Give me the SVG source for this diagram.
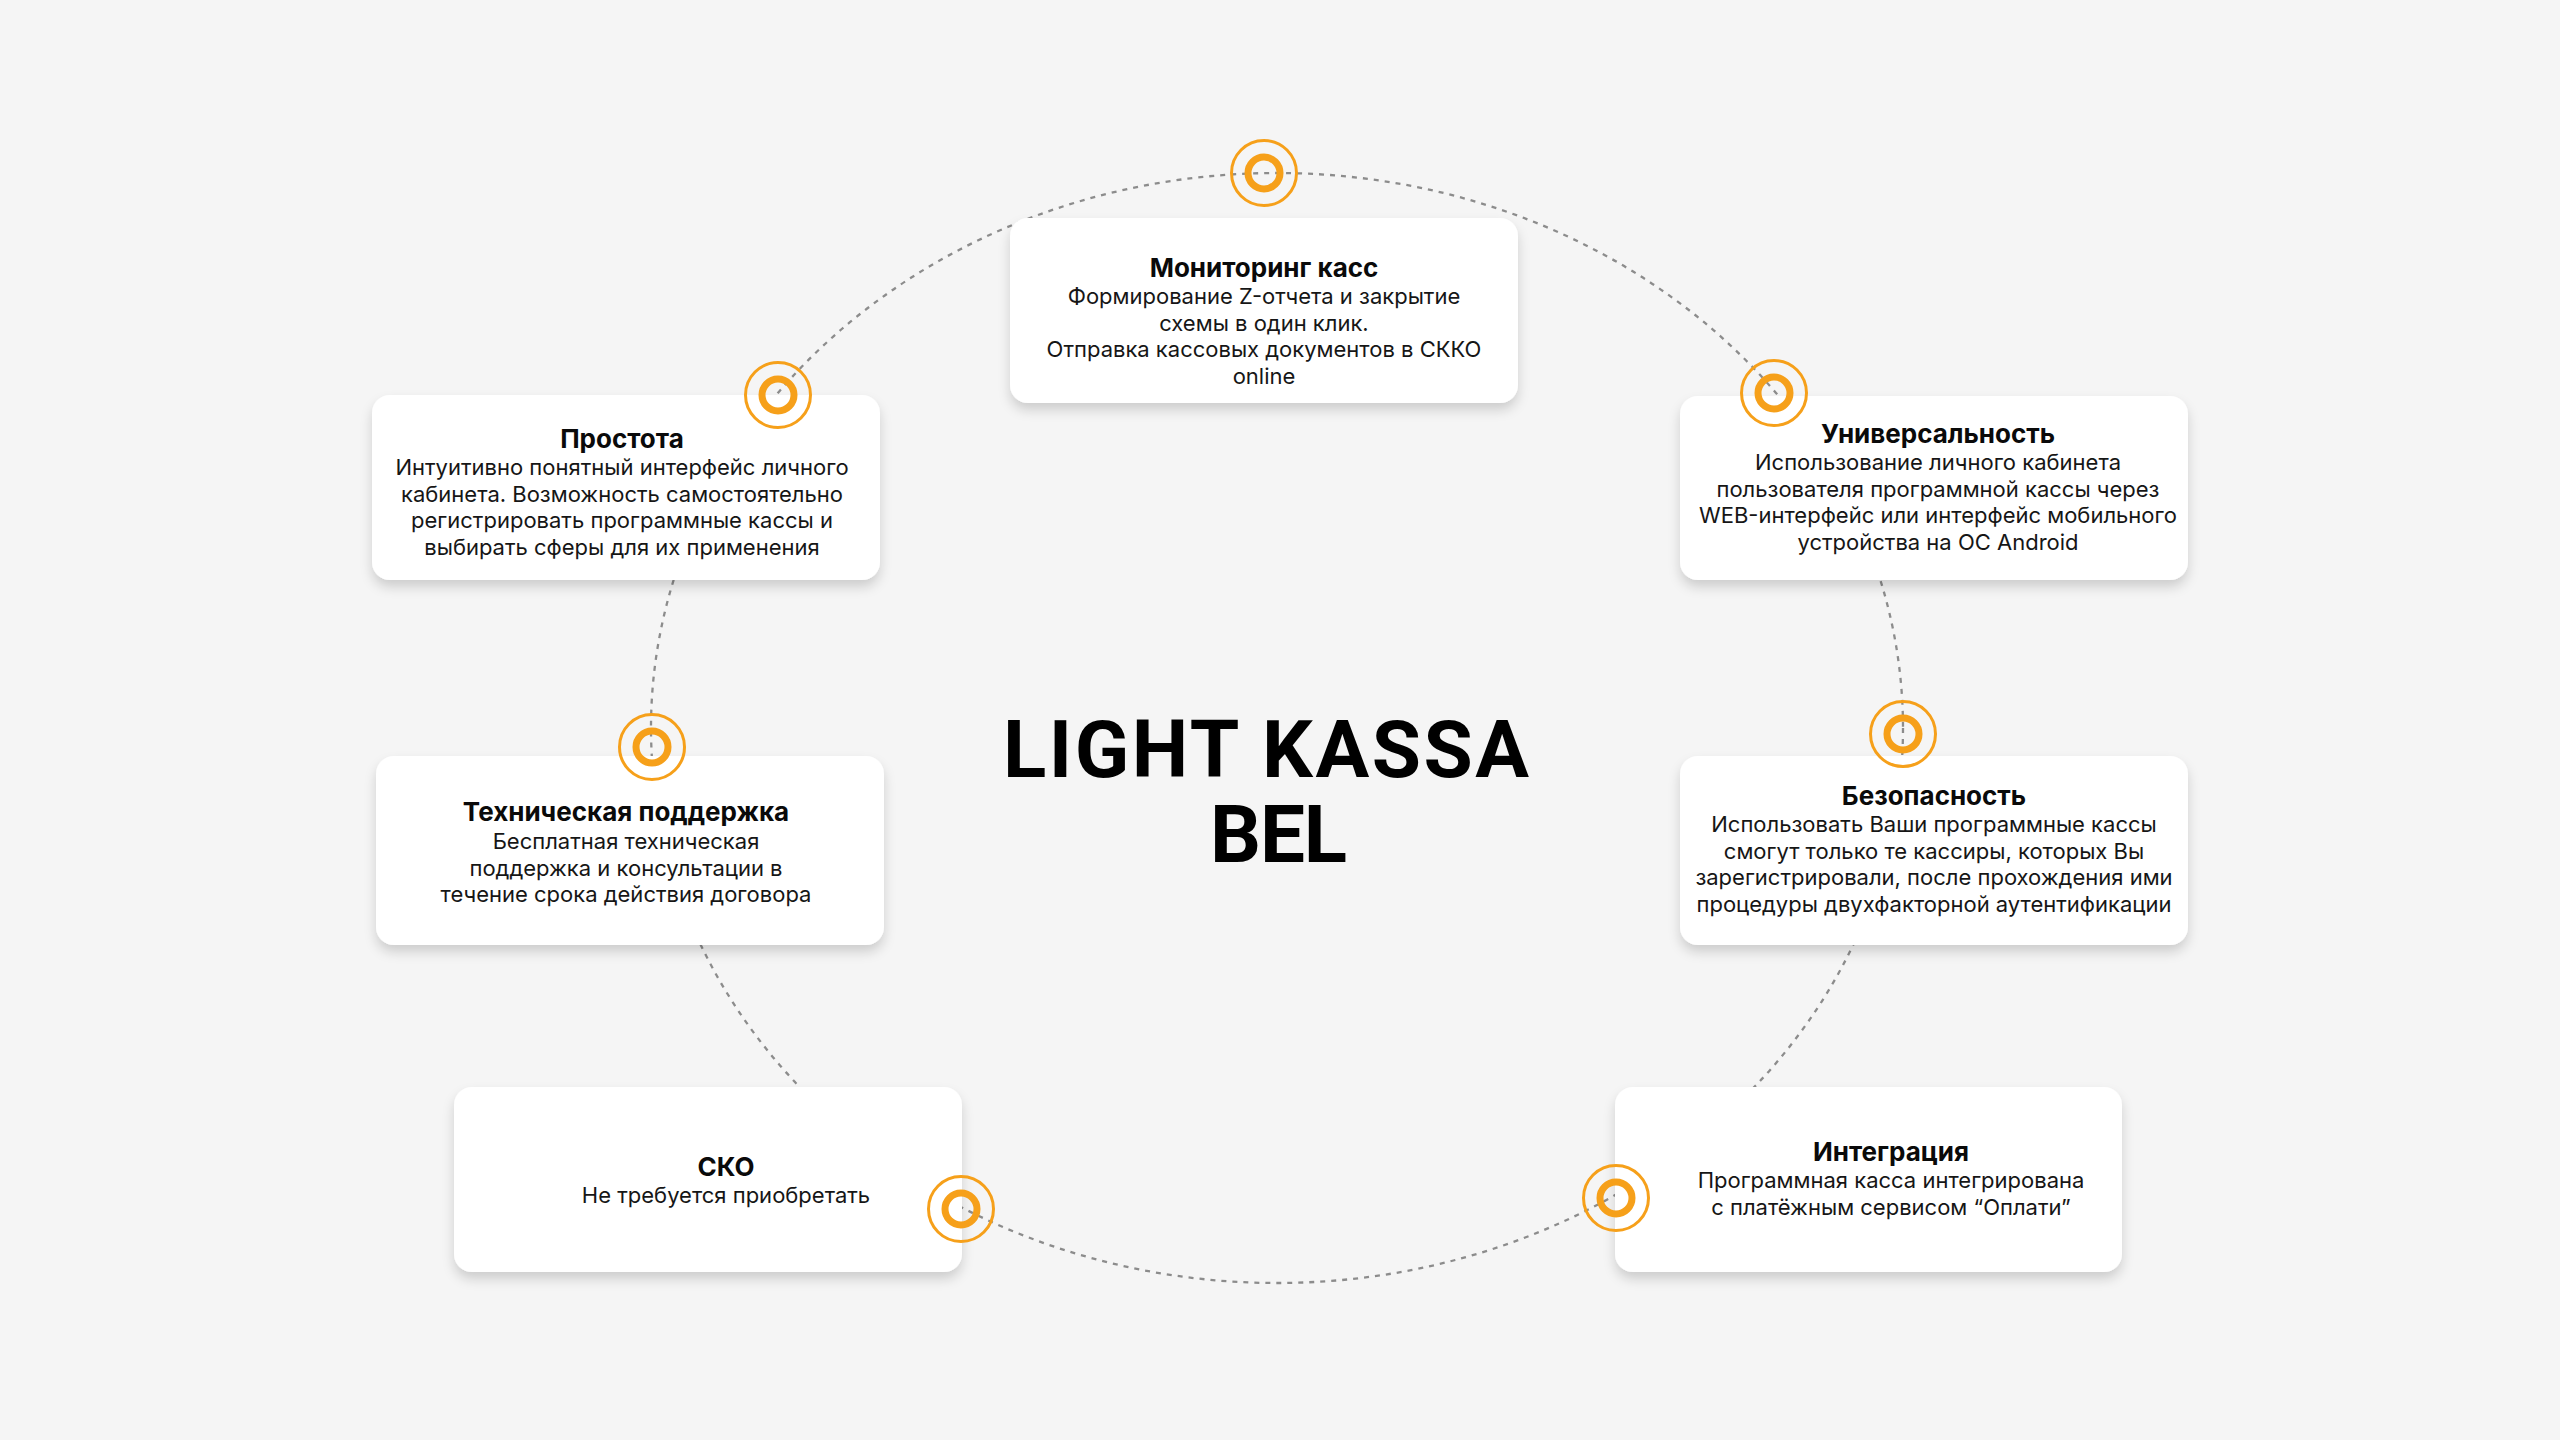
<svg xmlns="http://www.w3.org/2000/svg" width="2560" height="1440" viewBox="0 0 2560 1440">
  <defs>
    <filter id="shadow" x="-10%" y="-15%" width="120%" height="140%">
      <feDropShadow dx="0" dy="7" stdDeviation="6" flood-color="#000000" flood-opacity="0.16"/>
    </filter>
    <g id="marker">
      <circle r="32.5" fill="none" stroke="#F6A01A" stroke-width="3"/>
      <circle r="16" fill="none" stroke="#F6A01A" stroke-width="7"/>
    </g>
  </defs>
  <style>
    .card { fill: #FFFFFF; filter: url(#shadow); }
    .t { font-family: Inter, "Noto Sans", "Liberation Sans", sans-serif; font-size: 26px; font-weight: 700; fill: #0A0A0A; text-anchor: middle; }
    .b { font-family: Inter, "Noto Sans", "Liberation Sans", sans-serif; font-size: 22px; font-weight: 400; fill: #161616; text-anchor: middle; }
    .h { font-family: Roboto, "Liberation Sans", Arial, sans-serif; font-size: 80px; font-weight: 700; fill: #000000; }
    .dash { fill: none; stroke: #8C8C8C; stroke-width: 2.3; stroke-dasharray: 5 6; }
  </style>
  <rect x="0" y="0" width="2560" height="1440" fill="#F5F5F5"/>

  <g id="connectors">
    <ellipse class="dash" cx="1277" cy="728" rx="626" ry="555"/>
  </g>

  <g id="title">
    <text class="h" x="1003" y="777" textLength="526" lengthAdjust="spacing">LIGHT KASSA</text>
    <text class="h" x="1210" y="862" textLength="137" lengthAdjust="spacing">BEL</text>
  </g>

  <g id="node-monitoring">
    <rect class="card" x="1010" y="218" width="508" height="185" rx="18"/>
    <text class="t" x="1264" y="277">Мониторинг касс</text>
    <text class="b" x="1264" y="304">Формирование Z-отчета и закрытие</text>
    <text class="b" x="1264" y="330.5">схемы в один клик.</text>
    <text class="b" x="1264" y="357">Отправка кассовых документов в СККО</text>
    <text class="b" x="1264" y="383.5">online</text>
  </g>

  <g id="node-prostota">
    <rect class="card" x="372" y="395" width="508" height="185" rx="18"/>
    <text class="t" x="622" y="448">Простота</text>
    <text class="b" x="622" y="475">Интуитивно понятный интерфейс личного</text>
    <text class="b" x="622" y="501.5">кабинета. Возможность самостоятельно</text>
    <text class="b" x="622" y="528">регистрировать программные кассы и</text>
    <text class="b" x="622" y="554.5">выбирать сферы для их применения</text>
  </g>

  <g id="node-universal">
    <rect class="card" x="1680" y="396" width="508" height="184" rx="18"/>
    <text class="t" x="1938" y="443">Универсальность</text>
    <text class="b" x="1938" y="470">Использование личного кабинета</text>
    <text class="b" x="1938" y="496.5">пользователя программной кассы через</text>
    <text class="b" x="1938" y="523">WEB-интерфейс или интерфейс мобильного</text>
    <text class="b" x="1938" y="549.5">устройства на ОС Android</text>
  </g>

  <g id="node-support">
    <rect class="card" x="376" y="756" width="508" height="189" rx="18"/>
    <text class="t" x="626" y="821">Техническая поддержка</text>
    <text class="b" x="626" y="849">Бесплатная техническая</text>
    <text class="b" x="626" y="875.5">поддержка и консультации в</text>
    <text class="b" x="626" y="902">течение срока действия договора</text>
  </g>

  <g id="node-security">
    <rect class="card" x="1680" y="756" width="508" height="189" rx="18"/>
    <text class="t" x="1934" y="805">Безопасность</text>
    <text class="b" x="1934" y="832">Использовать Ваши программные кассы</text>
    <text class="b" x="1934" y="858.5">смогут только те кассиры, которых Вы</text>
    <text class="b" x="1934" y="885">зарегистрировали, после прохождения ими</text>
    <text class="b" x="1934" y="911.5">процедуры двухфакторной аутентификации</text>
  </g>

  <g id="node-sko">
    <rect class="card" x="454" y="1087" width="508" height="185" rx="18"/>
    <text class="t" x="726" y="1176">СКО</text>
    <text class="b" x="726" y="1203">Не требуется приобретать</text>
  </g>

  <g id="node-integration">
    <rect class="card" x="1615" y="1087" width="507" height="185" rx="18"/>
    <text class="t" x="1891" y="1161">Интеграция</text>
    <text class="b" x="1891" y="1188">Программная касса интегрирована</text>
    <text class="b" x="1891" y="1214.5">с платёжным сервисом “Оплати”</text>
  </g>

  <g id="markers">
    <use href="#marker" x="1264" y="173"/>
    <use href="#marker" x="778" y="395"/>
    <use href="#marker" x="1774" y="393"/>
    <use href="#marker" x="652" y="747"/>
    <use href="#marker" x="1903" y="734"/>
    <use href="#marker" x="961" y="1209"/>
    <use href="#marker" x="1616" y="1198"/>
  </g>
</svg>
